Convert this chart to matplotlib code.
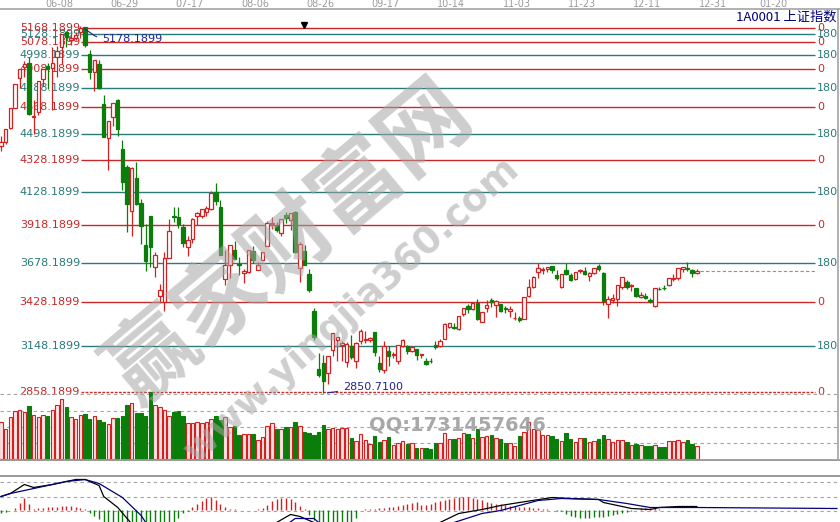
import matplotlib
matplotlib.use("Agg")
import numpy as np
import matplotlib.pyplot as plt

plt.rcParams['font.family'] = ['DejaVu Sans', 'Noto Sans CJK SC']

W, H = 840, 522

# 1A0001 daily candles, 2015-05-20 .. 2015-12-25 (one row per month)
opens = [4418, 4443, 4532, 4660, 4854, 4920, 4943, 4603,
         4633, 4844, 4924, 4912, 4984, 5045, 5145, 5093, 5104, 5143, 5174, 5004, 4890, 4942, 4689, 4471, 4605, 4711, 4399, 4289, 4006,
         4214, 4058, 3793, 3975, 3654, 3468, 3432, 3707, 3976, 3969, 3904, 3781, 3831, 3976, 3975, 3999, 4022, 4126, 4033, 3573, 3661, 3761, 3669,
         3614, 3621, 3751, 3632, 3695, 3786, 3925, 3914, 3867, 3979, 3948, 3999, 3646, 3754, 3609, 3373, 3004, 3043, 2978, 3125, 3190,
         3158, 3049, 3149, 3054, 3185, 3191, 3190, 3237, 3042, 2999, 3120, 3096, 3058, 3153, 3149, 3119, 3130, 3092, 3057, 3056,
         3156, 3147, 3193, 3268, 3273, 3260, 3355, 3403, 3383, 3425, 3304, 3390, 3444, 3408, 3414, 3391, 3375,
         3325, 3326, 3324, 3468, 3524, 3618, 3632, 3640, 3655, 3600, 3522, 3634, 3603, 3575, 3628, 3625, 3597, 3614, 3659, 3616, 3419,
         3442, 3450, 3527, 3558, 3529, 3516, 3462, 3469, 3443, 3403, 3513, 3518, 3535, 3578, 3579, 3639, 3645, 3631, 3614]
highs = [4480, 4529, 4658, 4814, 4911, 4958, 4986, 4709,
         4829, 4911, 4945, 5049, 5052, 5131, 5147, 5127, 5144, 5178.19, 5176, 5029, 4968, 4967, 4744, 4577, 4691, 4720, 4456, 4297, 4287,
         4317, 4080, 3927, 3975, 3748, 3546, 3749, 3959, 4031, 4030, 3927, 3846, 3963, 4002, 4022, 4038, 4132, 4184, 4074, 3758, 3789, 3818, 3718,
         3638, 3757, 3782, 3686, 3746, 3943, 3970, 3934, 3955, 4002, 3994, 4006, 3811, 3790, 3641, 3389, 3104, 3092, 3085, 3233, 3208,
         3179, 3174, 3217, 3174, 3256, 3243, 3209, 3239, 3085, 3182, 3148, 3114, 3157, 3194, 3155, 3150, 3132, 3102, 3076, 3073,
         3179, 3192, 3294, 3297, 3297, 3339, 3394, 3416, 3425, 3448, 3369, 3441, 3457, 3440, 3416, 3403, 3407,
         3369, 3343, 3459, 3573, 3597, 3678, 3651, 3653, 3659, 3633, 3607, 3678, 3616, 3617, 3640, 3654, 3618, 3647, 3669, 3621, 3470,
         3483, 3538, 3585, 3566, 3543, 3518, 3495, 3487, 3457, 3520, 3526, 3537, 3583, 3607, 3647, 3652, 3684, 3641, 3638]
lows = [4387, 4430, 4530, 4660, 4787, 4858, 4614, 4493,
        4615, 4797, 4781, 4647, 4856, 4942, 5049, 5061, 5089, 5103, 5048, 4842, 4767, 4780, 4476, 4264, 4547, 4483, 4139, 3876, 3848,
        4043, 3795, 3629, 3653, 3585, 3421, 3373, 3707, 3935, 3896, 3778, 3719, 3802, 3916, 3960, 3978, 4014, 4044, 3726, 3537, 3580, 3704, 3600,
        3549, 3612, 3675, 3630, 3695, 3785, 3892, 3876, 3846, 3929, 3886, 3743, 3558, 3664, 3490, 3191, 2953, 2850.71, 2906, 3086, 3055,
        3054, 3019, 3066, 3011, 3164, 3168, 3178, 3085, 2983, 2981, 3026, 3072, 3035, 3145, 3099, 3109, 3064, 3073, 3028, 3040,
        3132, 3141, 3192, 3264, 3261, 3251, 3340, 3360, 3376, 3313, 3302, 3368, 3399, 3332, 3367, 3360, 3337,
        3317, 3303, 3323, 3458, 3517, 3584, 3608, 3620, 3615, 3572, 3521, 3600, 3562, 3568, 3611, 3601, 3564, 3608, 3629, 3412, 3327,
        3421, 3407, 3509, 3513, 3500, 3459, 3454, 3447, 3424, 3397, 3503, 3505, 3532, 3563, 3569, 3617, 3625, 3588, 3609]
closes = [4446, 4529, 4658, 4814, 4911, 4941, 4620, 4612,
          4829, 4910, 4910, 4948, 5023, 5131, 5114, 5106, 5121, 5166, 5062, 4887, 4968, 4786, 4478, 4577, 4691, 4528, 4192, 4053, 4277,
          4053, 3912, 3687, 3776, 3727, 3507, 3710, 3878, 3970, 3925, 3805, 3823, 3958, 3992, 4017, 4027, 4124, 4071, 3726, 3663, 3789, 3705, 3664,
          3623, 3757, 3695, 3661, 3744, 3929, 3928, 3887, 3955, 3965, 3994, 3749, 3795, 3664, 3508, 3210, 2965, 2927, 3084, 3233, 3206,
          3166, 3160, 3080, 3170, 3243, 3197, 3200, 3114, 3005, 3152, 3086, 3097, 3156, 3186, 3116, 3143, 3093, 3101, 3039, 3053,
          3144, 3183, 3288, 3293, 3263, 3338, 3391, 3386, 3425, 3320, 3369, 3412, 3430, 3434, 3375, 3387, 3383,
          3325, 3316, 3459, 3522, 3590, 3647, 3640, 3650, 3632, 3580, 3607, 3605, 3568, 3617, 3630, 3610, 3616, 3647, 3636, 3436, 3446,
          3456, 3537, 3585, 3525, 3537, 3470, 3472, 3456, 3435, 3520, 3511, 3517, 3580, 3579, 3643, 3651, 3636, 3613, 3628]

# volume, read as bar height on the picture
volumes = [37, 30, 42, 48, 49, 47, 53, 44, 42, 44, 43, 49, 54, 60, 52, 42, 40, 44, 45, 40, 43, 39, 37, 35, 41, 41, 43, 54, 56, 46,
           46, 43, 67, 54, 52, 49, 43, 47, 48, 43, 36, 36, 37, 36, 37,
           40, 43, 39, 42, 32, 33, 24, 25, 25, 25, 19, 22, 33, 36, 30, 30, 32, 32, 37, 33, 27, 26, 24, 27, 34,
           30, 31, 30, 31, 31, 21, 18, 25, 19, 15, 23, 17, 19, 22, 14, 16, 18, 15, 16, 11,
           11, 11, 10, 16, 16, 26, 20, 20, 21, 26, 25, 21, 30, 22, 23, 24, 21, 20, 16, 16,
           13, 23, 27, 37, 30, 29, 24, 24, 23, 20, 18, 26, 20, 17, 21, 21, 17, 18, 20, 24,
           20, 17, 19, 19, 17, 14, 15, 14, 13, 13, 14, 12, 12, 18, 18, 19, 17, 19, 15, 13]

# MACD histogram per day and DIF / DEA read at some days
macd_bar = [-3, -2, 0.5, 2.5, 7.5, 12.5, 6.5, 1.5, 2, 2, 3, 3, 3, 4, 4, 4, 3, 2, 1,
            -3, -6, -9, -13, -16, -16, -16, -16, -16, -16, -16, -16, -16, -16, -16, -16, -16, -16, -16, -8, -3, -1,
            3, 6, 9, 12, 13, 10, 6, 3, 1, 1, 0.5, 0.5, 0.5, 0.5, 1,
            2, 5, 9, 11, 12, 12, 11, 8, 4, 1,
            -5, -10, -16, -16, -16, -16, -16, -16, -16, -16, -8, 0.5,
            1, 1, 1.5, 2, 2, 3, 3, 4, 5, 6, 7, 8,
            5, 5, 6, 8, 9, 10, 11, 12, 13, 13, 13, 12, 11, 10, 8, 7, 6, 6, 5, 4, 4, 3, 3, 3, 2, 2, 1, 1, 0.5, -0.5, -1,
            -4, -6, -7, -8, -8, -8, -7, -7, -7, -6, -5, -4, -3, -2, -1, 0.5, 2, 2.5, 2.5, 2, 1,
            0.5, 0.5, 0.5, 0.5, 0.5, 0.5, 0.5, 0.5]
dif_day = [0, 2, 5, 7, 11, 16, 18, 21, 22, 25, 27, 30, 40, 50, 55, 59, 62, 64, 67, 70, 80, 90,
           94, 98, 103, 107, 111, 118, 122, 128, 129, 131, 135, 139, 141, 145, 149]
dif_val = [13.5, 16.5, 25.5, 22.5, 25.5, 30.5, 30.5, 24.5, 13.5, 2.5, -8.5, -25, -45, -40, -25, -12.5, -4.5, -6.5, -12.5, -40, -35, -20,
           -12.5, -3.5, 0.5, 4.5, 7.5, 12.5, 11.5, 10.5, 7.5, 5.5, 1.5, 0.5, 2.5, 3.5, 3.5]
dea_day = [0, 2, 7, 14, 18, 21, 26, 30, 31, 40, 50, 58, 63, 67, 70, 80, 90,
           97, 103, 107, 111, 115, 120, 128, 134, 139, 145, 149, 179]
dea_val = [13.5, 16.5, 21.5, 28.5, 30.5, 26.5, 12.5, -5.5, -12.5, -35, -40, -25, -8.5, -8.5, -20, -30, -25,
           -12.5, -3.5, -0.5, 4.5, 9.5, 11.5, 10.5, 6.5, 2.5, 2.5, 2.5, 1.5]

levels = [5168.1899, 5128.1899, 5078.1899, 4998.1899, 4908.1899, 4788.1899, 4668.1899, 4498.1899,
          4328.1899, 4128.1899, 3918.1899, 3678.1899, 3428.1899, 3148.1899, 2858.1899]
level_tags = ['0', '180', '0', '180', '0', '180', '0', '180', '0', '180', '0', '180', '0', '180', '0']

date_labels = ['06-08', '06-29', '07-17', '08-06', '08-26', '09-17', '10-14', '11-03', '11-23', '12-11', '12-31', '01-20']
date_pos = [13, 27, 41, 55, 69, 83, 97, 111, 125, 139, 153, 166]

RED = '#d42020'
LINE_RED = '#c82828'
TEAL = '#2a7a7a'
GREEN = '#0b7d0b'
NAVY = '#23238f'
GRAY = '#a3a3a3'

X0, DX = 1.0, 4.67          # pixel of first candle, pixels per day


def jx(px):
    return (px - X0) / DX


def rect(top, bottom):
    return [0, 1 - bottom / H, 1, (bottom - top) / H]


PPP = (levels[0] - levels[-1]) / (392 - 28)


def px2price(py):
    return levels[0] - (py - 28) * PPP


idx = np.arange(len(closes))
o = np.array(opens, float)
c = np.array(closes, float)
up = c >= o
col = np.where(up, RED, GREEN)

fig = plt.figure(figsize=(W / 100, H / 100), dpi=100)
fig.patch.set_facecolor('white')

# ---------------- price panel ----------------
ax = fig.add_axes(rect(9, 395))
ax.set_xlim(jx(0), jx(W))
ax.set_ylim(px2price(395), px2price(9))
ax.axis('off')

for lv, tag in zip(levels, level_tags):
    lc = LINE_RED if tag == '0' else TEAL
    ls = (0, (2, 1)) if lv == levels[-1] else '-'
    ax.hlines(lv, jx(81), jx(815), colors=lc, lw=1.0, linestyles=ls, zorder=1)
    ax.text(jx(80), lv, f"{lv:.4f}", ha='right', va='center', fontsize=8, color=lc, zorder=1)
    ax.text(jx(817), lv, tag, ha='left', va='center', fontsize=8, color=lc, zorder=1)

ax.vlines(idx, lows, highs, colors=col, lw=0.9, zorder=3)
ax.bar(idx, np.abs(c - o), bottom=np.minimum(o, c), width=0.74,
       color=np.where(up, 'white', GREEN), edgecolor=col, linewidth=0.9, zorder=4)

ax.hlines(closes[-1], idx[-1] + 0.6, jx(816), colors='#909090', lw=0.8, linestyles=(0, (3, 2)), zorder=2)

imax = int(np.argmax(highs))
ax.annotate('5178.1899', xy=(imax + 0.5, highs[imax]), xytext=(jx(102), px2price(39)),
            ha='left', va='center', fontsize=8, color=NAVY, zorder=5,
            arrowprops=dict(arrowstyle='-', color=NAVY, lw=0.8, connectionstyle='arc3,rad=-0.3'))
imin = int(np.argmin(lows))
ax.annotate(f"{lows[imin]:.4f}", xy=(imin + 0.3, lows[imin]), xytext=(jx(343), px2price(387)),
            ha='left', va='center', fontsize=8, color=NAVY, zorder=5,
            arrowprops=dict(arrowstyle='-', color=NAVY, lw=0.8, linestyle=(0, (3, 1))))

for lab, p in zip(date_labels, date_pos):
    ax.text(p - 0.6, 1 + 5 / 386, lab, transform=ax.get_xaxis_transform(),
            ha='center', va='center', fontsize=7, color='#9a9a9a', clip_on=False)

# ---------------- volume panel ----------------
axv = fig.add_axes(rect(385, 461))
axv.set_xlim(jx(0), jx(W))
axv.set_ylim(-2, 74)
axv.axis('off')
for v in [16, 32, 48, 65]:
    axv.axhline(v, color=GRAY, lw=0.8, ls=(0, (3, 3)), zorder=0)
axv.bar(idx, volumes, width=0.74, color=np.where(up, '#ffe2e2', GREEN),
        edgecolor=col, linewidth=0.8, zorder=2)
axv.axhline(-0.9, color='#9a9a9a', lw=2, zorder=3)

# ---------------- MACD panel ----------------
axm = fig.add_axes(rect(462, 522))
axm.set_xlim(jx(0), jx(W))
axm.set_ylim(-12, 48)
axm.axis('off')
axm.axhline(34, color='#9a9a9a', lw=1.4)
for v in [28, 13, -1]:
    axm.axhline(v, color=GRAY, lw=0.8, ls=(0, (3, 3)), zorder=0)
hb = np.array(macd_bar, float)
axm.vlines(idx, 0, hb, colors=np.where(hb > 0, RED, GREEN), lw=1.0, zorder=2)
axm.plot(dif_day, dif_val, color='black', lw=0.9, zorder=3)
axm.plot(dea_day, dea_val, color='#000080', lw=0.9, zorder=3)

# ---------------- frame, title, watermark ----------------
ov = fig.add_axes([0, 0, 1, 1])
ov.set_xlim(0, W)
ov.set_ylim(H, 0)
ov.axis('off')
ov.plot([0, W], [9, 9], color=GRAY, lw=1.2)
ov.plot([838, 838], [9, 460], color=GRAY, lw=1.2)
ov.plot([304], [25], marker='v', color='black', markersize=5)
ov.text(837, 17, '1A0001 上证指数', ha='right', va='center', fontsize=9.5, color='#000080',
        family=['Noto Sans CJK SC', 'DejaVu Sans'])

ov.text(290, 243, '赢家财富网', ha='center', va='center', rotation=40, fontsize=64,
        fontweight='bold', color='#a6a6a6', alpha=0.55, family=['Noto Sans CJK SC'], zorder=10)
ov.text(352, 310, 'www.yingjia360.com', ha='center', va='center', rotation=42, fontsize=27,
        fontweight='bold', color='#a6a6a6', alpha=0.55, zorder=10)
ov.text(457, 425, 'QQ:1731457646', ha='center', va='center', fontsize=14,
        fontweight='bold', color='#a0a0a0', alpha=0.9, zorder=10)

fig.savefig('out.png', dpi=100)
